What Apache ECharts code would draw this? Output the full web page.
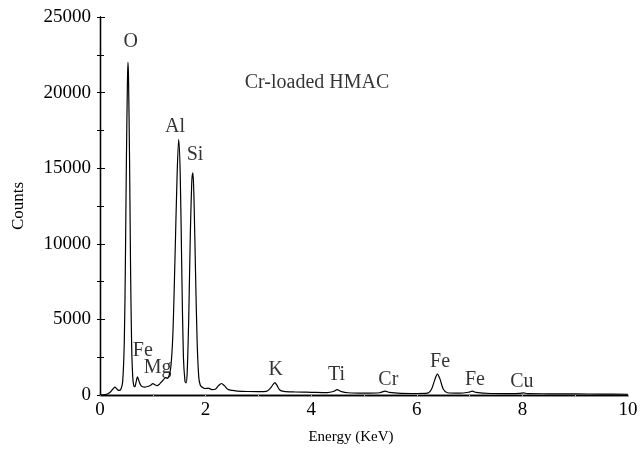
<!DOCTYPE html>
<html>
<head>
<meta charset="utf-8">
<script src="https://cdn.jsdelivr.net/npm/echarts@6/dist/echarts.min.js"></script>
<style>html,body{margin:0;padding:0;background:#fff}#c{width:641px;height:454px}</style>
</head>
<body>
<div id="c"></div>
<script>
var energy = [0.00,0.10,0.18,0.24,0.28,0.32,0.36,0.40,0.43,0.46,0.48,0.50,0.52,0.53,0.54,0.56,0.58,0.60,0.62,0.64,0.66,0.68,0.71,0.74,0.78,0.84,0.90,0.96,1.00,1.04,1.08,1.12,1.16,1.20,1.24,1.27,1.30,1.34,1.38,1.42,1.46,1.49,1.52,1.55,1.58,1.61,1.63,1.65,1.68,1.71,1.74,1.76,1.78,1.81,1.84,1.87,1.90,1.95,2.00,2.05,2.12,2.18,2.24,2.30,2.36,2.42,2.50,2.60,2.80,3.00,3.15,3.22,3.28,3.31,3.35,3.40,3.48,3.70,4.00,4.30,4.42,4.49,4.56,4.70,5.00,5.30,5.40,5.48,5.70,6.00,6.20,6.28,6.34,6.39,6.44,6.50,6.58,6.80,6.98,7.05,7.12,7.40,7.80,7.95,8.02,8.10,8.50,9.00,9.50,10.00];
var counts = [0,20,150,380,520,400,300,420,900,3500,8500,15500,20800,22000,21000,15500,8000,3200,1200,600,550,800,1200,900,600,520,560,650,750,680,620,700,850,1000,1150,1100,1200,1800,4000,9000,14500,16900,14500,8000,2500,900,800,1400,5000,10500,14200,14700,13000,8000,3500,1200,650,480,430,450,360,380,600,760,600,380,300,260,230,220,240,420,700,820,650,350,240,200,180,160,230,350,240,150,120,150,260,170,110,100,120,400,1000,1380,1050,400,150,120,180,260,170,100,90,110,140,90,80,70,60,50];
var labelText = ['O','Cr-loaded HMAC','Al','Si','Fe','Mg','K','Ti','Cr','Fe','Fe','Cu'];
var labelX = [0.58,4.11,1.42,1.80,0.81,1.09,3.33,4.48,5.46,6.44,7.10,7.99];
var labelY = [23370,20640,17730,15870,2930,1770,1650,1320,990,2200,990,880];
var xTicks = [0,2,4,6,8,10];
var yTicks = [0,5000,10000,15000,20000,25000];

var chart = echarts.init(document.getElementById('c'));
var fontF = '"Liberation Serif","Times New Roman",serif';
var lineData = energy.map(function(e,i){return [e,counts[i]];});
var annData = labelText.map(function(t,i){return {value:[labelX[i],labelY[i]],name:t};});
chart.setOption({
  animation:false,
  backgroundColor:'#fff',
  grid:{left:100,right:13,top:17,bottom:59,containLabel:false,outerBoundsMode:'none'},
  xAxis:[{
    type:'value',min:xTicks[0],max:xTicks[xTicks.length-1],interval:2,
    name:'Energy (KeV)',nameLocation:'middle',nameGap:35,
    nameTextStyle:{fontFamily:fontF,fontSize:15,color:'#000',padding:[0,26,0,0]},
    axisLine:{show:true,onZero:false,lineStyle:{color:'#000',width:1.3}},
    axisTick:{show:true,inside:false,length:2,lineStyle:{color:'#aaa',width:1}},
    minorTick:{show:true,splitNumber:2,length:2,lineStyle:{color:'#aaa'}},
    axisLabel:{fontFamily:fontF,fontSize:19,color:'#000',margin:6,formatter:function(v){return String(v);}},
    splitLine:{show:false}
  },{
    type:'value',position:'top',min:0,max:10,interval:2,
    axisLine:{show:true,lineStyle:{color:'#000',width:1.3}},
    axisTick:{show:true,inside:true,length:2,lineStyle:{color:'#aaa'}},
    minorTick:{show:true,splitNumber:2,length:2,lineStyle:{color:'#aaa'}},
    axisLabel:{show:false},splitLine:{show:false}
  }],
  yAxis:[{
    type:'value',min:yTicks[0],max:yTicks[yTicks.length-1],interval:5000,
    name:'Counts',nameLocation:'middle',nameGap:73,
    nameTextStyle:{fontFamily:fontF,fontSize:17,color:'#000'},
    axisLine:{show:true,onZero:false,lineStyle:{color:'#000',width:1.3}},
    axisTick:{show:true,inside:true,length:5,lineStyle:{color:'#000',width:1}},
    minorTick:{show:true,splitNumber:2,length:4,lineStyle:{color:'#000',width:1}},
    axisLabel:{fontFamily:fontF,fontSize:19,color:'#000',margin:9,formatter:function(v){return String(v);}},
    splitLine:{show:false}
  },{
    type:'value',position:'right',min:0,max:25000,interval:5000,
    axisLine:{show:true,lineStyle:{color:'#000',width:1.3}},
    axisTick:{show:true,inside:true,length:3,lineStyle:{color:'#000'}},
    minorTick:{show:true,splitNumber:2,length:3,lineStyle:{color:'#000'}},
    axisLabel:{show:false},splitLine:{show:false}
  }],
  series:[{
    type:'line',data:lineData,showSymbol:false,smooth:0.3,
    lineStyle:{color:'#000',width:1.2},
    xAxisIndex:0,yAxisIndex:0
  },{
    type:'scatter',data:annData,symbolSize:0,
    xAxisIndex:0,yAxisIndex:0,
    label:{show:true,position:'inside',formatter:'{b}',
      fontFamily:fontF,fontSize:20,color:'#000'},
    emphasis:{disabled:true}
  }]
});
</script>
</body>
</html>
